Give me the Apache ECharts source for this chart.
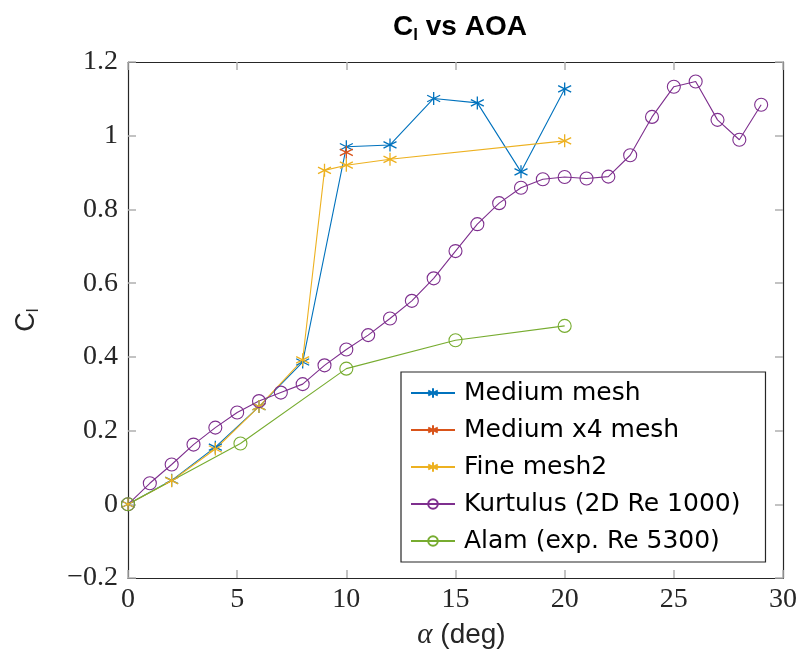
<!DOCTYPE html>
<html><head><meta charset="utf-8">
<script src="https://cdn.jsdelivr.net/npm/echarts@6/dist/echarts.min.js"></script>
<style>html,body{margin:0;padding:0;background:#fff}#c{width:801px;height:657px}</style>
</head><body><div id="c"></div>
<script>
const seriesNames = ['Medium mesh','Medium x4 mesh','Fine mesh2','Kurtulus (2D Re 1000)','Alam (exp. Re 5300)'];
const mediumX = [0,2,4,6,8,10,12,14,16,18,20];
const mediumY = [0,0.065,0.155,0.265,0.386,0.970,0.975,1.101,1.089,0.902,1.127];
const medium4X = [10];
const medium4Y = [0.955];
const fineX = [0,2,4,6,8,9,10,12,20];
const fineY = [0,0.064,0.150,0.265,0.392,0.906,0.920,0.936,0.986];
const kurtX = [0,1,2,3,4,5,6,7,8,9,10,11,12,13,14,15,16,17,18,19,20,21,22,23,24,25,26,27,28,29];
const kurtY = [0,0.057,0.108,0.162,0.208,0.249,0.280,0.303,0.326,0.377,0.420,0.459,0.504,0.552,0.613,0.687,0.760,0.817,0.859,0.882,0.888,0.884,0.889,0.947,1.051,1.133,1.147,1.043,0.989,1.084];
const alamX = [0,5.15,10,15,20];
const alamY = [0,0.165,0.368,0.445,0.484];
const xTicks = [0,5,10,15,20,25,30];
const yTicks = [-0.2,0,0.2,0.4,0.6,0.8,1,1.2];
const colors = ['#0072BD','#D95319','#EDB120','#7E2F8E','#77AC30'];

const star = 'path://M0,-10L0,10M-8.66,-5L8.66,5M-8.66,5L8.66,-5';
const ring = 'path://M10,0A10,10,0,1,1,-10,0A10,10,0,1,1,10,0Z';
function pairs(xs, ys){ return xs.map((x,i)=>[x, ys[i]]); }
function mk(i, xs, ys, isStar){
  return {
    name: seriesNames[i], type:'line', data: pairs(xs, ys),
    symbol: isStar ? star : ring,
    symbolSize: isStar ? 13 : 13,
    showAllSymbol: true,
    animation:false,
    lineStyle:{color:colors[i], width:1.1},
    itemStyle: {color:'none', borderColor:colors[i], borderWidth: isStar ? 1.3 : 1.1},
    emphasis:{disabled:true}
  };
}
const serif = '"Liberation Serif","Times New Roman",serif';
const sans = '"Liberation Sans",Arial,Helvetica,sans-serif';
const wide = '"DejaVu Sans",sans-serif';
function fmtY(v){ const r=Math.round(v*10)/10; if(r===0) return '0'; const s=String(Math.abs(r)); return (r<0?'\u2212':'')+s; }
const tickStyle = {show:true, inside:true, length:8, lineStyle:{color:'#b0b0b0', width:1.5}};
const lineSt = {show:true, onZero:false, lineStyle:{color:'#262626', width:1.2}};
const chart = echarts.init(document.getElementById('c'), null, {renderer:'canvas'});
chart.setOption({
  animation:false,
  backgroundColor:'#fff',
  title:{
    text:'{b|C}{s|l}{b| vs AOA}', left:455, top:6, textAlign:'center',
    textStyle:{rich:{
      b:{fontFamily:sans, fontWeight:'bold', fontSize:28, color:'#000'},
      s:{fontFamily:sans, fontWeight:'bold', fontSize:17, color:'#000', verticalAlign:'bottom', padding:[16,0,0,0]}
    }}
  },
  grid:{left:128, right:18, top:62, bottom:79, show:false},
  xAxis:[{
    type:'value', min:xTicks[0], max:xTicks[xTicks.length-1], interval:5,
    name:'{a|\u03b1}{t| (deg)}', nameLocation:'middle', nameGap:43,
    nameTextStyle:{padding:[0,0,0,12], rich:{a:{fontFamily:serif, fontStyle:'italic', fontSize:29, color:'#262626'}, t:{fontFamily:sans, fontSize:28, color:'#262626'}}},
    axisLine:lineSt, axisTick:tickStyle,
    axisLabel:{fontFamily:serif, fontSize:28, color:'#262626', margin:8},
    splitLine:{show:false}
  },{
    type:'value', position:'top', min:0, max:30, interval:5,
    axisLine:lineSt, axisTick:tickStyle,
    axisLabel:{show:false}, splitLine:{show:false}
  }],
  yAxis:[{
    type:'value', min:yTicks[0], max:yTicks[yTicks.length-1], interval:0.2,
    name:'{c|C}{s|l}', nameLocation:'middle', nameGap:86, nameRotate:90,
    nameTextStyle:{rich:{c:{fontFamily:sans, fontSize:27, color:'#262626'}, s:{fontFamily:sans, fontSize:17, color:'#262626', verticalAlign:'bottom', padding:[14,0,0,0]}}},
    axisLine:lineSt, axisTick:tickStyle,
    axisLabel:{fontFamily:serif, fontSize:28, color:'#262626', margin:10, formatter:fmtY},
    splitLine:{show:false}
  },{
    type:'value', position:'right', min:-0.2, max:1.2, interval:0.2,
    axisLine:lineSt, axisTick:tickStyle,
    axisLabel:{show:false}, splitLine:{show:false}
  }],
  legend:{
    orient:'vertical', left:401, top:372,
    backgroundColor:'#fff', borderColor:'#262626', borderWidth:1.2,
    padding:[8,25,8,9], itemGap:11, itemWidth:44, itemHeight:12,
    textStyle:{fontFamily:wide, fontSize:25, color:'#000', lineHeight:26, padding:[0,0,0,4]},
    data: seriesNames
  },
  series:[
    mk(0, mediumX, mediumY, true),
    mk(1, medium4X, medium4Y, true),
    mk(2, fineX, fineY, true),
    mk(3, kurtX, kurtY, false),
    mk(4, alamX, alamY, false)
  ]
});
</script></body></html>
